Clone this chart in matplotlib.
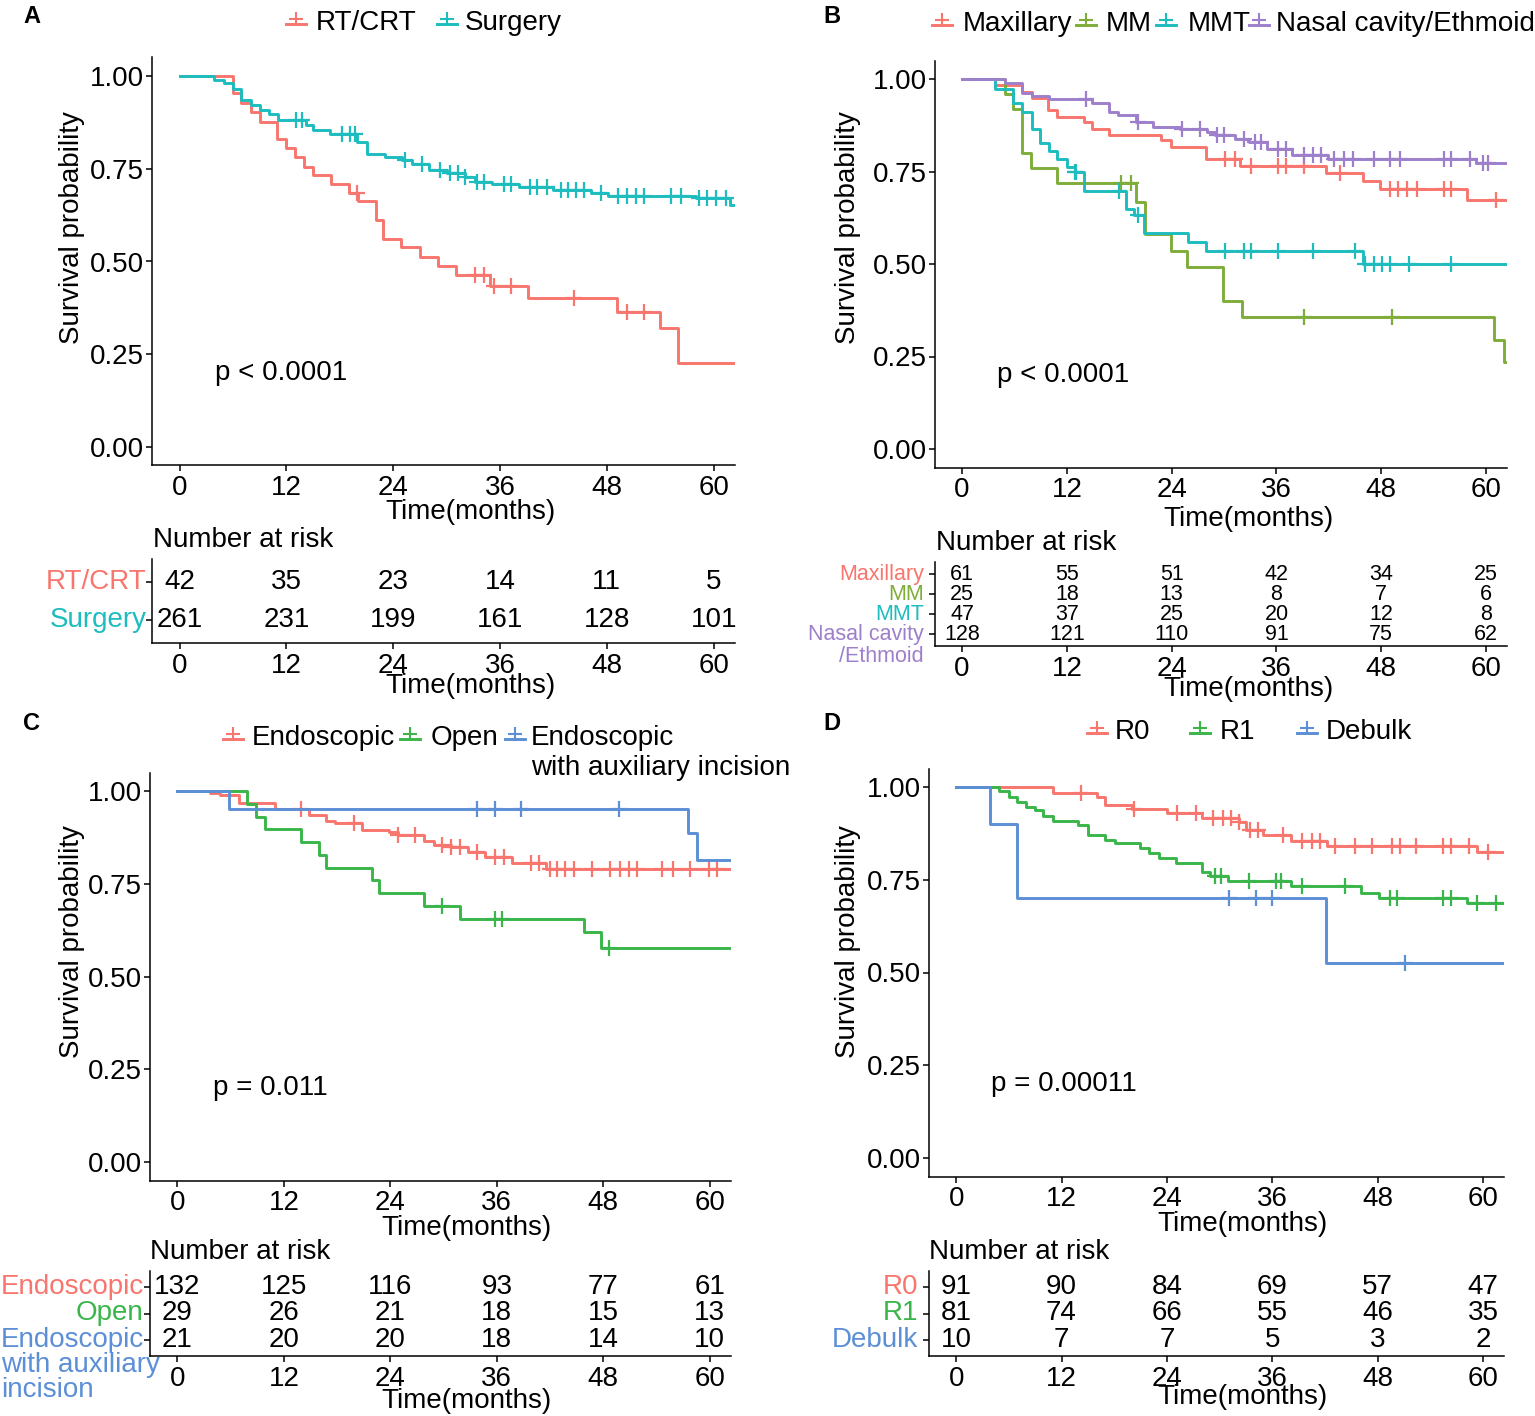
import numpy as np
import matplotlib
matplotlib.use("Agg")
import matplotlib.pyplot as plt
from matplotlib.lines import Line2D
from matplotlib.transforms import Affine2D

plt.rcParams['font.family'] = ['Liberation Sans', 'DejaVu Sans']

# ---------------- values ----------------
months = [0, 12, 24, 36, 48, 60]
t_end = 62.4

# A: treatment
a_labels = ['RT/CRT', 'Surgery']
a_colors = ['#F8766D', '#1DBDBF']
a_rt_t = [6.0, 6.9, 8.0, 9.0, 10.9, 11.9, 13.0, 14.0, 15.0, 17.0, 19.0, 20.0, 22.1, 22.9,
          24.9, 27.0, 29.0, 31.0, 34.9, 39.1, 49.1, 54.0, 56.0]
a_rt_s = [0.953, 0.926, 0.904, 0.877, 0.829, 0.805, 0.781, 0.756, 0.733, 0.709, 0.684, 0.664,
          0.612, 0.562, 0.540, 0.513, 0.489, 0.464, 0.435, 0.402, 0.365, 0.320, 0.225]
a_rt_c = [19.9, 33.2, 34.2, 35.3, 37.2, 44.3, 50.3, 52.2]
a_sg_t = [3.9, 5.0, 6.0, 6.9, 8.0, 9.0, 10.0, 11.0, 14.2, 15.0, 16.9, 19.9, 21.0, 23.1, 25.0,
          26.1, 28.0, 30.0, 32.1, 33.2, 35.1, 38.1, 41.9, 46.2, 48.1, 58.0, 61.8]
a_sg_s = [0.99, 0.98, 0.964, 0.935, 0.922, 0.908, 0.899, 0.881, 0.868, 0.854, 0.845, 0.823,
          0.791, 0.782, 0.773, 0.764, 0.747, 0.738, 0.729, 0.715, 0.709, 0.702, 0.693, 0.684,
          0.676, 0.670, 0.652]
a_sg_c = [13.1, 13.7, 18.2, 19.1, 19.7, 25.3, 27.2, 29.3, 30.4, 31.3, 32.1, 33.4, 34.2, 36.4,
          37.2, 39.4, 40.2, 41.3, 42.8, 43.6, 44.5, 45.4, 47.3, 49.2, 50.3, 51.3, 52.2, 55.2,
          56.3, 58.4, 59.3, 60.3, 61.4]
a_risk_rt = [42, 35, 23, 14, 11, 5]
a_risk_sg = [261, 231, 199, 161, 128, 101]

# B: site
b_legend = ['Maxillary', 'MM', 'MMT', 'Nasal cavity/Ethmoid']
b_labels = ['Maxillary', 'MM', 'MMT', 'Nasal cavity\n/Ethmoid']
b_colors = ['#F8766D', '#7FAD3A', '#1DBDBF', '#9E7FCB']
b_max_t = [3.8, 6.9, 8.0, 9.8, 10.9, 14.0, 14.9, 16.8, 22.8, 23.9, 27.9, 31.8, 41.7, 45.9, 47.9, 57.8]
b_max_s = [0.983, 0.965, 0.95, 0.916, 0.898, 0.884, 0.866, 0.848, 0.835, 0.815, 0.783, 0.765,
           0.745, 0.725, 0.704, 0.674]
b_max_c = [30.1, 31.2, 33.1, 36.2, 37.1, 39.1, 43.3, 49.0, 49.9, 51.0, 52.1, 55.2, 56.0, 61.1]
b_mm_t = [4.9, 5.8, 6.9, 7.9, 10.9, 19.9, 20.9, 23.9, 25.8, 29.9, 32.0, 60.9, 62.0]
b_mm_s = [0.96, 0.92, 0.80, 0.76, 0.72, 0.668, 0.581, 0.536, 0.491, 0.401, 0.356, 0.294, 0.236]
b_mm_c = [18.2, 19.3, 39.1, 49.2]
b_mmt_t = [3.8, 5.8, 6.9, 8.0, 8.9, 10.0, 10.9, 12.0, 12.9, 14.0, 18.8, 19.7, 20.8, 25.9, 27.9, 45.9]
b_mmt_s = [0.974, 0.934, 0.911, 0.866, 0.826, 0.806, 0.785, 0.763, 0.749, 0.697, 0.650, 0.632,
           0.583, 0.560, 0.536, 0.500]
b_mmt_c = [12.9, 13.1, 18.0, 20.1, 30.1, 32.3, 33.1, 36.2, 40.2, 45.0, 46.1, 47.2, 48.1, 49.0,
           51.2, 56.0]
b_nas_t = [4.9, 6.9, 8.0, 10.0, 14.9, 16.8, 17.9, 19.9, 21.9, 25.0, 28.1, 29.0, 31.2, 32.9,
           34.9, 37.8, 41.9, 58.9]
b_nas_s = [0.99, 0.961, 0.954, 0.947, 0.934, 0.911, 0.902, 0.884, 0.871, 0.864, 0.857, 0.848,
           0.839, 0.830, 0.812, 0.794, 0.783, 0.772]
b_nas_c = [14.2, 20.1, 25.2, 27.2, 29.2, 30.0, 32.3, 33.6, 34.2, 36.2, 37.1, 39.1, 40.2, 41.1,
           42.6, 43.7, 44.8, 47.2, 49.0, 50.1, 55.2, 56.0, 58.2, 59.6, 60.2]
b_risk = [[61, 55, 51, 42, 34, 25],
          [25, 18, 13, 8, 7, 6],
          [47, 37, 25, 20, 12, 8],
          [128, 121, 110, 91, 75, 62]]

# C: approach
c_legend = ['Endoscopic', 'Open', 'Endoscopic\nwith auxiliary incision']
c_labels = ['Endoscopic', 'Open', 'Endoscopic\nwith auxiliary\nincision']
c_colors = ['#F8766D', '#3AB54A', '#5C8FD6']
c_end_t = [3.7, 4.8, 6.9, 10.95, 14.8, 16.7, 17.8, 20.8, 23.8, 24.85, 27.8, 28.9, 30.8, 32.8,
           34.7, 37.7, 41.5]
c_end_s = [0.994, 0.988, 0.967, 0.951, 0.936, 0.918, 0.913, 0.895, 0.890, 0.882, 0.864, 0.855,
           0.850, 0.837, 0.823, 0.805, 0.789]
c_end_c = [13.9, 19.9, 24.9, 26.8, 29.8, 30.8, 31.9, 33.8, 35.8, 36.8, 39.8, 40.7, 42.0, 42.8,
           43.7, 44.7, 46.7, 48.8, 49.9, 50.9, 51.8, 54.6, 55.9, 57.8, 59.9, 60.8]
c_open_t = [7.8, 8.9, 9.9, 13.9, 15.9, 16.7, 21.9, 22.7, 27.8, 31.9, 45.8, 47.7]
c_open_s = [0.966, 0.931, 0.897, 0.862, 0.828, 0.793, 0.759, 0.724, 0.690, 0.655, 0.619, 0.577]
c_open_c = [29.8, 35.8, 36.6, 48.7]
c_aux_t = [5.8, 57.6, 58.6]
c_aux_s = [0.952, 0.886, 0.813]
c_aux_c = [33.8, 35.8, 38.7, 49.8]
c_risk = [[132, 125, 116, 93, 77, 61],
          [29, 26, 21, 18, 15, 13],
          [21, 20, 20, 18, 14, 10]]

# D: margin
d_labels = ['R0', 'R1', 'Debulk']
d_colors = ['#F8766D', '#3AB54A', '#5C8FD6']
d_r0_t = [11.0, 16.0, 17.0, 20.0, 24.0, 28.0, 32.2, 33.05, 35.0, 38.1, 42.2, 59.3]
d_r0_s = [0.985, 0.972, 0.952, 0.940, 0.929, 0.916, 0.905, 0.884, 0.871, 0.855, 0.841, 0.826]
d_r0_c = [14.2, 20.3, 25.1, 27.3, 29.3, 30.4, 31.3, 32.2, 33.5, 34.4, 37.2, 39.4, 40.5, 41.4,
          43.2, 45.4, 47.4, 49.6, 50.5, 52.4, 55.5, 56.4, 58.4, 60.6]
d_r1_t = [4.9, 6.0, 6.9, 7.9, 9.0, 9.9, 11.0, 13.9, 15.0, 17.0, 18.1, 20.9, 22.0, 23.05, 25.0,
          28.0, 28.95, 31.0, 38.1, 46.1, 48.2, 58.2]
d_r1_s = [0.988, 0.974, 0.961, 0.947, 0.938, 0.922, 0.909, 0.898, 0.871, 0.857, 0.848, 0.835,
          0.823, 0.808, 0.796, 0.772, 0.760, 0.748, 0.733, 0.715, 0.700, 0.687]
d_r1_c = [29.5, 30.2, 33.3, 36.4, 37.0, 39.4, 44.3, 49.4, 50.2, 55.5, 56.4, 59.3, 61.5]
d_deb_t = [3.9, 6.9, 42.1]
d_deb_s = [0.9, 0.7, 0.525]
d_deb_c = [31.1, 34.1, 36.0, 51.1]
d_risk = [[91, 90, 84, 69, 57, 47],
          [81, 74, 66, 55, 46, 35],
          [10, 7, 7, 5, 3, 2]]

p_values = ['p < 0.0001', 'p < 0.0001', 'p = 0.011', 'p = 0.00011']

# ---------------- drawing ----------------
W, H = 1535, 1416
fig = plt.figure(figsize=(W / 100, H / 100), dpi=100)
px = Affine2D().scale(1.0 / W, -1.0 / H).translate(0, 1) + fig.transFigure


def box(l, t, r, b):
    return fig.add_axes([l / W, 1 - b / H, (r - l) / W, (b - t) / H])


def txt(x, y, s, size=20, **kw):
    fig.text(x, y, s, transform=px, fontsize=size, **kw)


def style(ax):
    for sp in ['top', 'right']:
        ax.spines[sp].set_visible(False)
    for sp in ['left', 'bottom']:
        ax.spines[sp].set_linewidth(1.1)
    ax.tick_params(direction='out', length=4, width=1.1, labelsize=20)
    ax.tick_params(axis='x', pad=3)
    ax.tick_params(axis='y', pad=1.5)
    ax.set_xlim(-3.1, t_end)
    ax.set_xticks(months)
    ax.set_xticklabels([str(m) for m in months])


def km(ax, times, surv, cens, color):
    tt = np.r_[0.0, times, t_end]
    ss = np.r_[1.0, surv, surv[-1]]
    ax.step(tt, ss, where='post', color=color, lw=2.1)
    idx = np.searchsorted(tt, cens, side='right') - 1
    ax.plot(cens, ss[idx], ls='none', marker='+', ms=11, mew=1.6, color=color)


def main_panel(rect, curves, colors, pval, ylab, xlab):
    ax = box(*rect)
    style(ax)
    ax.set_ylim(-0.05, 1.05)
    ax.set_yticks([0, 0.25, 0.5, 0.75, 1.0])
    ax.set_yticklabels(['0.00', '0.25', '0.50', '0.75', '1.00'])
    for (t, s, c), col in zip(curves, colors):
        km(ax, t, s, c, col)
    ax.text(4, 0.2, pval, fontsize=20, ha='left', va='center')
    txt(ylab[0], ylab[1], 'Survival probability', rotation=90, ha='center', va='center')
    txt(xlab[0], xlab[1], 'Time(months)', ha='center', va='baseline')


def table_panel(rect, labels, colors, risk, fs, gap, lsp, title, xlab, left_label=None):
    ax = box(*rect)
    style(ax)
    n = len(labels)
    ax.set_ylim(0.4, n + 0.6)
    ax.set_yticks(range(1, n + 1))
    ax.set_yticklabels([])
    for i, (lab, col, row) in enumerate(zip(labels, colors, risk)):
        lev = n - i
        for m, v in zip(months, row):
            ax.text(m, lev, str(v), ha='center', va='center', fontsize=fs)
        for k, line in enumerate(lab.split('\n')):
            if lab == left_label:
                ax.annotate(line, xy=(1.0 / W, lev), xycoords=('figure fraction', 'data'),
                            xytext=(0, -k * lsp), textcoords='offset points',
                            ha='left', va='center', color=col, fontsize=fs)
            else:
                ax.annotate(line, xy=(0, lev), xycoords=('axes fraction', 'data'),
                            xytext=(-gap, -k * lsp), textcoords='offset points',
                            ha='right', va='center', color=col, fontsize=fs)
    txt(title[0], title[1], 'Number at risk', ha='left', va='baseline')
    txt(xlab[0], xlab[1], 'Time(months)', ha='center', va='baseline')


def legend(items, labels, colors, y, lsp=30):
    for (sx, tx), lab, col in zip(items, labels, colors):
        fig.add_artist(Line2D([sx - 10, sx + 10], [y + 3.5, y + 3.5], color=col, lw=2.1,
                              transform=px))
        fig.add_artist(Line2D([sx], [y - 1], color=col, marker='+', ms=10, mew=1.5,
                              transform=px))
        for k, line in enumerate(lab.split('\n')):
            txt(tx, y + 10 + k * lsp, line, ha='left', va='baseline')


# Panel A
main_panel((152, 57.5, 735, 465.5),
           [(a_rt_t, a_rt_s, a_rt_c), (a_sg_t, a_sg_s, a_sg_c)], a_colors,
           p_values[0], (72, 228), (470, 519))
table_panel((152, 559.4, 735, 643), a_labels, a_colors, [a_risk_rt, a_risk_sg],
            20, 4, 0, (153, 547), (470, 693))
legend([(296, 316), (447, 465)], a_labels, a_colors, 20)

# Panel B
main_panel((935, 60.5, 1507, 467.5),
           [(b_max_t, b_max_s, b_max_c), (b_mm_t, b_mm_s, b_mm_c),
            (b_mmt_t, b_mmt_s, b_mmt_c), (b_nas_t, b_nas_s, b_nas_c)], b_colors,
           p_values[1], (848, 228), (1248, 526))
table_panel((935, 562, 1507, 646), b_labels, b_colors, b_risk,
            15.5, 8, 16, (936, 550), (1248, 696))
legend([(942, 963), (1086, 1106), (1166, 1188), (1259, 1276)], b_legend, b_colors, 21)

# Panel C
main_panel((150, 772.5, 731, 1180.5),
           [(c_end_t, c_end_s, c_end_c), (c_open_t, c_open_s, c_open_c),
            (c_aux_t, c_aux_s, c_aux_c)], c_colors,
           p_values[2], (72, 942), (466, 1235))
table_panel((150, 1271, 731, 1356), c_labels, c_colors, c_risk,
            20, 4.5, 18, (150, 1259), (466, 1408), left_label=c_labels[2])
legend([(233, 252), (410, 431), (515, 531)], c_legend, c_colors, 735)

# Panel D
main_panel((929, 768.5, 1504, 1176.5),
           [(d_r0_t, d_r0_s, d_r0_c), (d_r1_t, d_r1_s, d_r1_c),
            (d_deb_t, d_deb_s, d_deb_c)], d_colors,
           p_values[3], (848, 942), (1243, 1231))
table_panel((929, 1271, 1504, 1356), d_labels, d_colors, d_risk,
            20, 8, 18, (929, 1259), (1243, 1404))
legend([(1097, 1115), (1200, 1220), (1307, 1326)], d_labels, d_colors, 729)

for letter, x, y in [('A', 32, 23), ('B', 832, 23), ('C', 32, 730), ('D', 832, 730)]:
    txt(x, y, letter, size=17, weight='bold', ha='center', va='baseline')

fig.savefig('out.png', dpi=100)
